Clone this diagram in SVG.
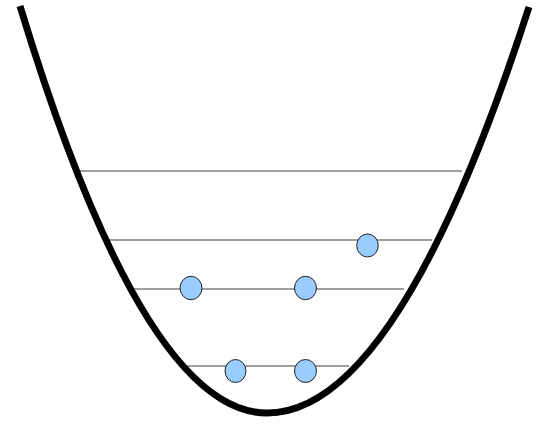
<svg xmlns="http://www.w3.org/2000/svg" width="537" height="425" viewBox="0 0 537 425">
<style>
.well{fill:none;stroke:#000;stroke-width:7;stroke-linecap:butt}
.level{stroke:#7f7f7f;stroke-width:1.5;fill:none}
.particle{fill:#99ccff;stroke:#222;stroke-width:1}
</style>
<rect x="0" y="0" width="537" height="425" fill="#fff"/>
<g id="levels">
<line class="level" x1="76" y1="171" x2="462" y2="171"/>
<line class="level" x1="105" y1="240" x2="432" y2="240"/>
<line class="level" x1="130" y1="289" x2="404" y2="289"/>
<line class="level" x1="183" y1="366" x2="349" y2="366"/>
</g>
<g id="well">
<path class="well" d="M20,6 Q143.5,413 267,413 Q398,413 529,7"/>
</g>
<g id="p1"><ellipse class="particle" cx="367.5" cy="245.5" rx="10.8" ry="11.5"/></g>
<g id="p2"><ellipse class="particle" cx="191" cy="288" rx="11" ry="11.7"/></g>
<g id="p3"><ellipse class="particle" cx="305.5" cy="288" rx="11" ry="11.7"/></g>
<g id="p4"><ellipse class="particle" cx="235.5" cy="371" rx="10.5" ry="11.5"/></g>
<g id="p5"><ellipse class="particle" cx="305.5" cy="371" rx="11" ry="11.5"/></g>
</svg>
